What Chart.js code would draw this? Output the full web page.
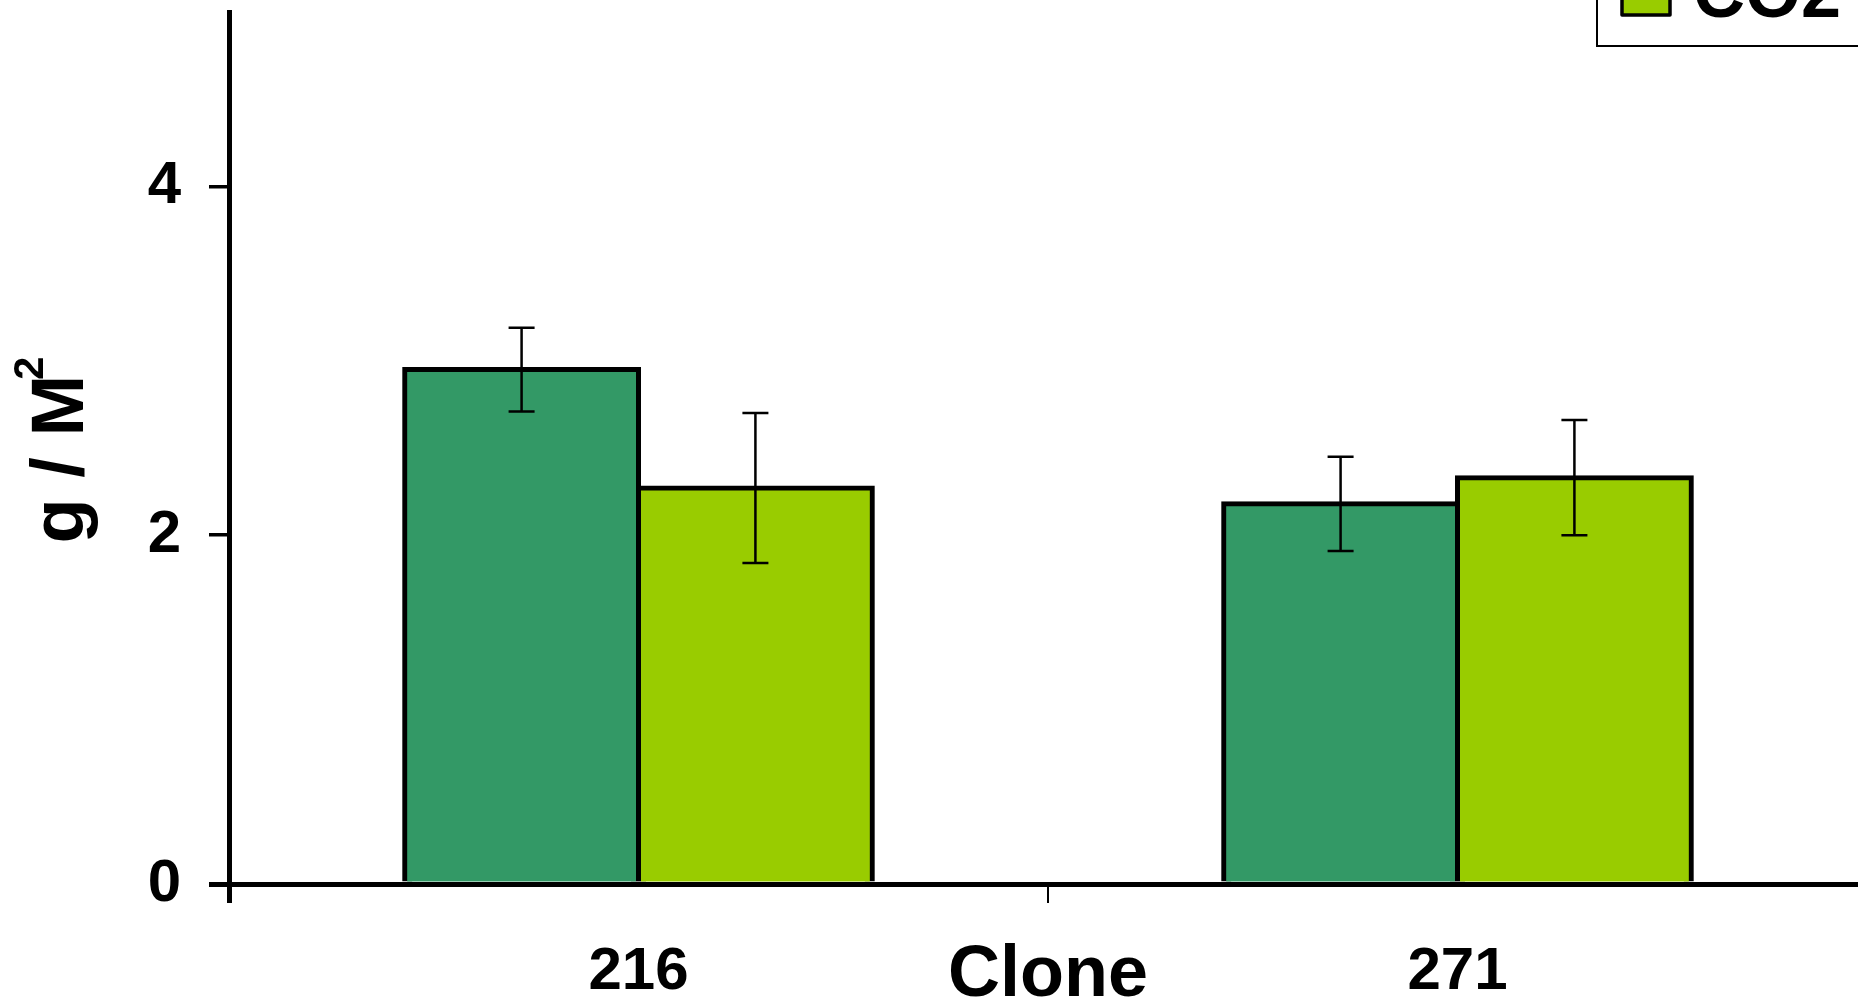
<!DOCTYPE html>
<html>
<head>
<meta charset="utf-8">
<script src="https://cdn.jsdelivr.net/npm/chart.js@4/dist/chart.umd.min.js"></script>
<style>
  html, body { margin: 0; padding: 0; background: #ffffff; overflow: hidden; }
  #wrap { position: absolute; left: 0; top: 0; }
</style>
</head>
<body>
<div id="wrap"><canvas id="chart" width="1867" height="1002"></canvas></div>
<script>
// Clone categories and treatment series (g / m²), with standard errors
const clones = ['216', '271'];
const seriesNames = ['Control', 'CO2'];
const controlValues = [2.95, 2.18];
const controlErrors = [0.24, 0.27];
const co2Values = [2.27, 2.33];
const co2Errors = [0.43, 0.33];
const yTicks = [0, 2, 4];
const yTitle = 'g / M';
const yTitleSup = '2';

const FONT = '"Liberation Sans", Arial, Helvetica, sans-serif';
const DARK_GREEN = '#339966';
const LIME = '#99cc00';

// Symmetric error bars drawn through the value scale
const errorBars = {
  id: 'errorBars',
  afterDatasetsDraw(chart) {
    const ctx = chart.ctx;
    const y = chart.scales.y;
    ctx.save();
    ctx.strokeStyle = '#000';
    ctx.lineWidth = 2.5;
    chart.data.datasets.forEach((ds, di) => {
      const meta = chart.getDatasetMeta(di);
      meta.data.forEach((bar, i) => {
        const v = ds.data[i], e = ds.errors[i];
        const top = y.getPixelForValue(v + e);
        const bot = y.getPixelForValue(v - e);
        const x = bar.x, cap = 13;
        ctx.beginPath();
        ctx.moveTo(x, top); ctx.lineTo(x, bot);
        ctx.moveTo(x - cap, top); ctx.lineTo(x + cap, top);
        ctx.moveTo(x - cap, bot); ctx.lineTo(x + cap, bot);
        ctx.stroke();
      });
    });
    ctx.restore();
  }
};

// Rotated y-axis title with a raised exponent
const yAxisTitle = {
  id: 'yAxisTitle',
  afterDraw(chart) {
    const ctx = chart.ctx;
    const area = chart.chartArea;
    const cy = (area.top + area.bottom) / 2 + 2;
    ctx.save();
    ctx.translate(83, cy);
    ctx.rotate(-Math.PI / 2);
    ctx.fillStyle = '#000';
    ctx.textBaseline = 'alphabetic';
    ctx.textAlign = 'left';
    const mainFont = 'bold 74px ' + FONT;
    const supFont = 'bold 42px ' + FONT;
    ctx.font = mainFont;
    const wMain = ctx.measureText(yTitle).width;
    ctx.font = supFont;
    const wSup = ctx.measureText(yTitleSup).width;
    const gap = -5;
    const x0 = -(wMain + gap + wSup) / 2;
    ctx.font = mainFont;
    ctx.fillText(yTitle, x0, 0);
    ctx.font = supFont;
    ctx.fillText(yTitleSup, x0 + wMain + gap, -40);
    ctx.restore();
  }
};

// Boxed legend in the upper right corner
const boxLegend = {
  id: 'boxLegend',
  afterDraw(chart) {
    const ctx = chart.ctx;
    const area = chart.chartArea;
    const left = area.right - 270;
    const bottom = 46;
    ctx.save();
    ctx.strokeStyle = '#000';
    ctx.lineWidth = 2;
    ctx.strokeRect(left, -200, chart.width - left + 20, bottom + 200);
    const rows = [-80, -9];
    chart.data.datasets.forEach((ds, i) => {
      const cy = rows[i];
      ctx.fillStyle = ds.backgroundColor;
      ctx.fillRect(left + 25, cy - 24, 48, 48);
      ctx.lineWidth = 3.5;
      ctx.lineJoin = 'round';
      ctx.strokeRect(left + 25, cy - 24, 48, 48);
      ctx.fillStyle = '#000';
      ctx.font = 'bold 72px ' + FONT;
      ctx.textAlign = 'left';
      ctx.textBaseline = 'alphabetic';
      ctx.fillText(ds.label, left + 96, cy + 26);
    });
    ctx.restore();
  }
};

new Chart(document.getElementById('chart'), {
  type: 'bar',
  data: {
    labels: clones,
    datasets: [
      { label: seriesNames[0], data: controlValues, errors: controlErrors, backgroundColor: DARK_GREEN },
      { label: seriesNames[1], data: co2Values, errors: co2Errors, backgroundColor: LIME }
    ]
  },
  options: {
    responsive: false,
    animation: false,
    devicePixelRatio: 1,
    layout: { padding: { top: 12, right: 0, bottom: 0, left: 0 } },
    datasets: {
      bar: {
        borderColor: '#000',
        borderWidth: 5,
        borderSkipped: 'start',
        inflateAmount: 2.5,
        barPercentage: 1.0,
        categoryPercentage: 0.571
      }
    },
    plugins: {
      legend: { display: false },
      tooltip: { enabled: false }
    },
    scales: {
      x: {
        afterFit(scale) {
          scale.height = 118;
          scale.paddingLeft = 0;
          scale.paddingRight = 0;
        },
        offset: true,
        grid: {
          offset: true,
          drawOnChartArea: false,
          drawTicks: true,
          tickLength: 19,
          color: '#000',
          lineWidth: (c) => (c.index === 0 ? 5 : 2)
        },
        border: { display: true, color: '#000', width: 5, z: 1 },
        ticks: {
          color: '#000',
          padding: 33,
          font: { family: FONT, size: 60, weight: 'bold' }
        },
        title: {
          display: true,
          text: 'Clone',
          color: '#000',
          padding: { top: 0, bottom: -4 },
          font: { family: FONT, size: 72, weight: 'bold', lineHeight: 0.8333 }
        }
      },
      y: {
        afterFit(scale) {
          scale.width = 229;
          scale.paddingTop = 0;
          scale.paddingBottom = 0;
        },
        min: 0,
        max: 5,
        bounds: 'data',
        afterBuildTicks(scale) { scale.ticks = yTicks.map(v => ({ value: v })); },
        grid: {
          drawOnChartArea: false,
          drawTicks: true,
          tickLength: 20,
          color: '#000',
          lineWidth: (c) => (c.tick && c.tick.value === 0 ? 5 : 3.5)
        },
        border: { display: true, color: '#000', width: 5, z: 1 },
        ticks: {
          color: '#000',
          padding: 28,
          font: { family: FONT, size: 60, weight: 'bold' }
        },
        title: { display: false }
      }
    }
  },
  plugins: [errorBars, yAxisTitle, boxLegend]
});
</script>
</body>
</html>
